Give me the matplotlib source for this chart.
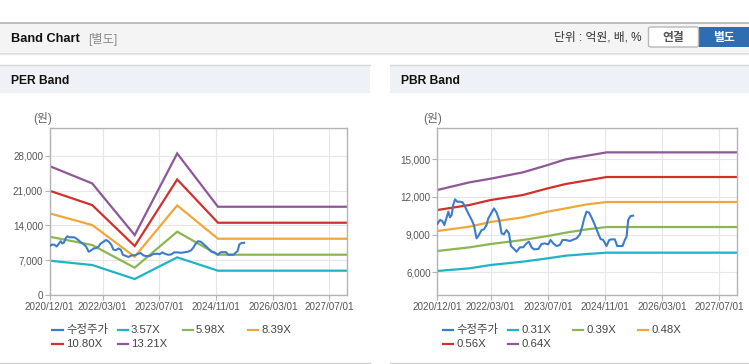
import numpy as np
import matplotlib
matplotlib.use("Agg")
import matplotlib.pyplot as plt
from matplotlib.lines import Line2D
from matplotlib.patches import Rectangle, FancyBboxPatch

plt.rcParams['font.family'] = ['Liberation Sans', 'Noto Sans CJK KR', 'DejaVu Sans']

W, H = 749, 364

# 수정주가 (공통)
price_dates = ["2020-12-01", "2020-12-24", "2021-01-13", "2021-01-30", "2021-02-19", "2021-03-05",
               "2021-03-19", "2021-04-02", "2021-04-16", "2021-05-01", "2021-05-20", "2021-06-12",
               "2021-07-05", "2021-07-25", "2021-08-22", "2021-09-20", "2021-10-09", "2021-11-01",
               "2021-11-21", "2021-12-14", "2022-01-03", "2022-01-25", "2022-02-09", "2022-03-09",
               "2022-03-29", "2022-04-21", "2022-05-13", "2022-06-02", "2022-06-22", "2022-07-15",
               "2022-08-04", "2022-08-21", "2022-09-10", "2022-10-08", "2022-11-06", "2022-12-04",
               "2023-01-01", "2023-01-21", "2023-02-13", "2023-03-05", "2023-04-11", "2023-05-09",
               "2023-06-07", "2023-07-05", "2023-07-25", "2023-08-17", "2023-09-14", "2023-10-12",
               "2023-11-04", "2023-12-03", "2024-01-06", "2024-02-09", "2024-03-03", "2024-03-31",
               "2024-04-20", "2024-05-07", "2024-05-27", "2024-06-18", "2024-07-08", "2024-08-06",
               "2024-09-03", "2024-09-23", "2024-10-16", "2024-11-13", "2024-12-06", "2024-12-26",
               "2025-01-23", "2025-02-12", "2025-03-07", "2025-03-30", "2025-04-18", "2025-05-03",
               "2025-05-17", "2025-06-06", "2025-06-28"]
price = [9840, 10160, 10080, 9760, 10370, 10820, 10370, 10550, 11350, 11800,
         11610, 11610, 11560, 11220, 10690, 10160, 9760, 8700, 8970, 9360,
         9420, 9760, 10290, 10740, 11080, 10740, 10160, 9100, 9020, 9360,
         9100, 8090, 7910, 7640, 7990, 7990, 8300, 8440, 7990, 7830,
         7850, 8250, 8300, 8220, 8570, 8300, 8090, 8170, 8570, 8570,
         8490, 8620, 8700, 9020, 9630, 10290, 10820, 10740, 10370, 9760,
         9100, 8650, 8570, 8090, 8570, 8620, 8620, 8090, 8090, 8090,
         8570, 8830, 10160, 10470, 10500]

# PER 밴드
per_dates = ["2020-12-01", "2021-12-01", "2022-12-01", "2023-12-01", "2024-11-15", "2027-12-01"]
per_357 = [6900, 6030, 3215, 7570, 4890, 4890]
per_598 = [11720, 10050, 5490, 12730, 8105, 8105]
per_839 = [16410, 14070, 7700, 18020, 11320, 11320]
per_1080 = [20965, 18085, 9846, 23240, 14535, 14535]
per_1321 = [25920, 22440, 12056, 28470, 17750, 17750]

# PBR 밴드
pbr_dates = ["2020-12-01", "2021-09-01", "2022-03-01", "2022-12-01", "2023-07-01",
             "2023-12-01", "2024-06-01", "2024-11-15", "2027-12-01"]
pbr_031 = [6106, 6318, 6583, 6848, 7112, 7324, 7456, 7562, 7562]
pbr_039 = [7694, 7985, 8250, 8568, 8885, 9150, 9415, 9600, 9600]
pbr_048 = [9282, 9626, 9997, 10368, 10818, 11082, 11400, 11585, 11585]
pbr_056 = [10950, 11347, 11744, 12141, 12671, 13015, 13306, 13571, 13571]
pbr_064 = [12538, 13147, 13438, 13941, 14524, 14974, 15265, 15529, 15529]

xtick_dates = ["2020-12-01", "2022-03-01", "2023-07-01", "2024-11-01", "2026-03-01", "2027-07-01"]
xtick_labels = ["2020/12/01", "2022/03/01", "2023/07/01", "2024/11/01", "2026/03/01", "2027/07/01"]

colors = ['#3d7cc9', '#1fb3c6', '#8db553', '#f0a73a', '#d1312c', '#8e5796']

fig = plt.figure(figsize=(W / 100, H / 100), dpi=100)
fig.patch.set_facecolor('white')


def fx(x):
    return x / W


def fy(y):
    return 1 - y / H


def box(x0, y0, x1, y1, color, edge='none'):
    fig.add_artist(Rectangle((fx(x0), fy(y1)), fx(x1) - fx(x0), fy(y0) - fy(y1),
                             transform=fig.transFigure, facecolor=color, edgecolor=edge, lw=1, zorder=0))


def hline(x0, x1, y, color, lw=1.0):
    fig.add_artist(Line2D([fx(x0), fx(x1)], [fy(y), fy(y)], transform=fig.transFigure,
                          color=color, lw=lw, zorder=1))


# 상단 헤더
box(0, 22, 749, 52, '#f4f4f4')
hline(0, 749, 22.5, '#b4b4b4', 1.2)
hline(0, 749, 52.5, '#d4d4d4', 1.0)
hline(0, 749, 53.5, '#e9e9e9', 1.0)
fig.text(fx(11), fy(39), "Band Chart", fontsize=9.2, fontweight='bold', color='#111', va='center')
fig.text(fx(88), fy(39), "[별도]", fontsize=8.8, color='#8a8a8a', va='center')
fig.text(fx(642), fy(38), "단위 : 억원, 배, %", fontsize=8.5, color='#333', va='center', ha='right')
fig.add_artist(FancyBboxPatch((fx(648.5), fy(47)), fx(50), fy(27) - fy(47),
                              boxstyle="round,pad=0,rounding_size=0.004", transform=fig.transFigure,
                              facecolor='white', edgecolor='#b8b8b8', lw=1))
fig.text(fx(673.5), fy(37.5), "연결", fontsize=8.5, fontweight='bold', color='#555', va='center', ha='center')
box(699, 27, 749, 47, '#2f6db3')
fig.text(fx(724), fy(37.5), "별도", fontsize=8.5, fontweight='bold', color='white', va='center', ha='center')

# 패널 제목 바
for x0, x1, title in [(0, 370, "PER Band"), (390, 749, "PBR Band")]:
    box(x0, 65, x1, 93, '#eef2f7')
    hline(x0, x1, 64.5, '#d6d6d6')
    hline(x0, x1, 362.5, '#d0d0d0')
    fig.text(fx(x0 + 11), fy(80.5), title, fontsize=8.7, fontweight='bold', color='#111', va='center')


def draw_panel(ax, band_dates, bands, labels, ylim, yticks, ylabels, unit_x, leg_x0):
    xt = np.array(xtick_dates, dtype='datetime64[D]')
    bd = np.array(band_dates, dtype='datetime64[D]')
    lines = []
    for vals, c in zip(bands, colors[1:]):
        lines.append(ax.plot(bd, vals, color=c, lw=1.6, solid_joinstyle='miter')[0])
    pl = ax.plot(np.array(price_dates, dtype='datetime64[D]'), price, color=colors[0], lw=1.5, zorder=5)[0]
    ax.set_xlim(np.datetime64("2020-12-01"), np.datetime64("2027-12-01"))
    ax.set_ylim(*ylim)
    ax.set_xticks(xt)
    ax.set_xticklabels(xtick_labels)
    ax.set_yticks(yticks)
    ax.set_yticklabels(ylabels)
    ax.grid(color='#e6e6e6', lw=0.8)
    ax.set_axisbelow(True)
    for s in ax.spines.values():
        s.set_color('#b3b3b3')
        s.set_linewidth(1)
    ax.tick_params(length=3.6, width=0.8, color='#b3b3b3', labelsize=7.1, labelcolor='#555', pad=1.2)
    ax.set_facecolor('white')

    fig.text(fx(unit_x), fy(118.3), "(원)", fontsize=8.5, color='#666', ha='center', va='center')

    # 범례
    handles = [pl] + lines
    for i, (h, lab) in enumerate(zip(handles, labels)):
        row, col = divmod(i, 4)
        x0 = leg_x0 + 65 * col
        y = 330 + 13.7 * row
        fig.add_artist(Line2D([fx(x0), fx(x0 + 10.5)], [fy(y), fy(y)], transform=fig.transFigure,
                              color=h.get_color(), lw=1.6))
        fig.text(fx(x0 + 13.5), fy(y), lab, fontsize=8.2, color='#444', va='center')


ax1 = fig.add_axes([fx(49.7), fy(295), (347.3 - 49.7) / W, (295 - 128.3) / H])
draw_panel(ax1, per_dates, [per_357, per_598, per_839, per_1080, per_1321],
           ["수정주가", "3.57X", "5.98X", "8.39X", "10.80X", "13.21X"],
           (0, 33530), [0, 7000, 14000, 21000, 28000], ["0", "7,000", "14,000", "21,000", "28,000"],
           43, 52.5)

ax2 = fig.add_axes([fx(437.3), fy(295), (737 - 437.3) / W, (295 - 128.3) / H])
draw_panel(ax2, pbr_dates, [pbr_031, pbr_039, pbr_048, pbr_056, pbr_064],
           ["수정주가", "0.31X", "0.39X", "0.48X", "0.56X", "0.64X"],
           (4200, 17440), [6000, 9000, 12000, 15000], ["6,000", "9,000", "12,000", "15,000"],
           432.5, 442.7)

fig.savefig("out.png", dpi=100)
